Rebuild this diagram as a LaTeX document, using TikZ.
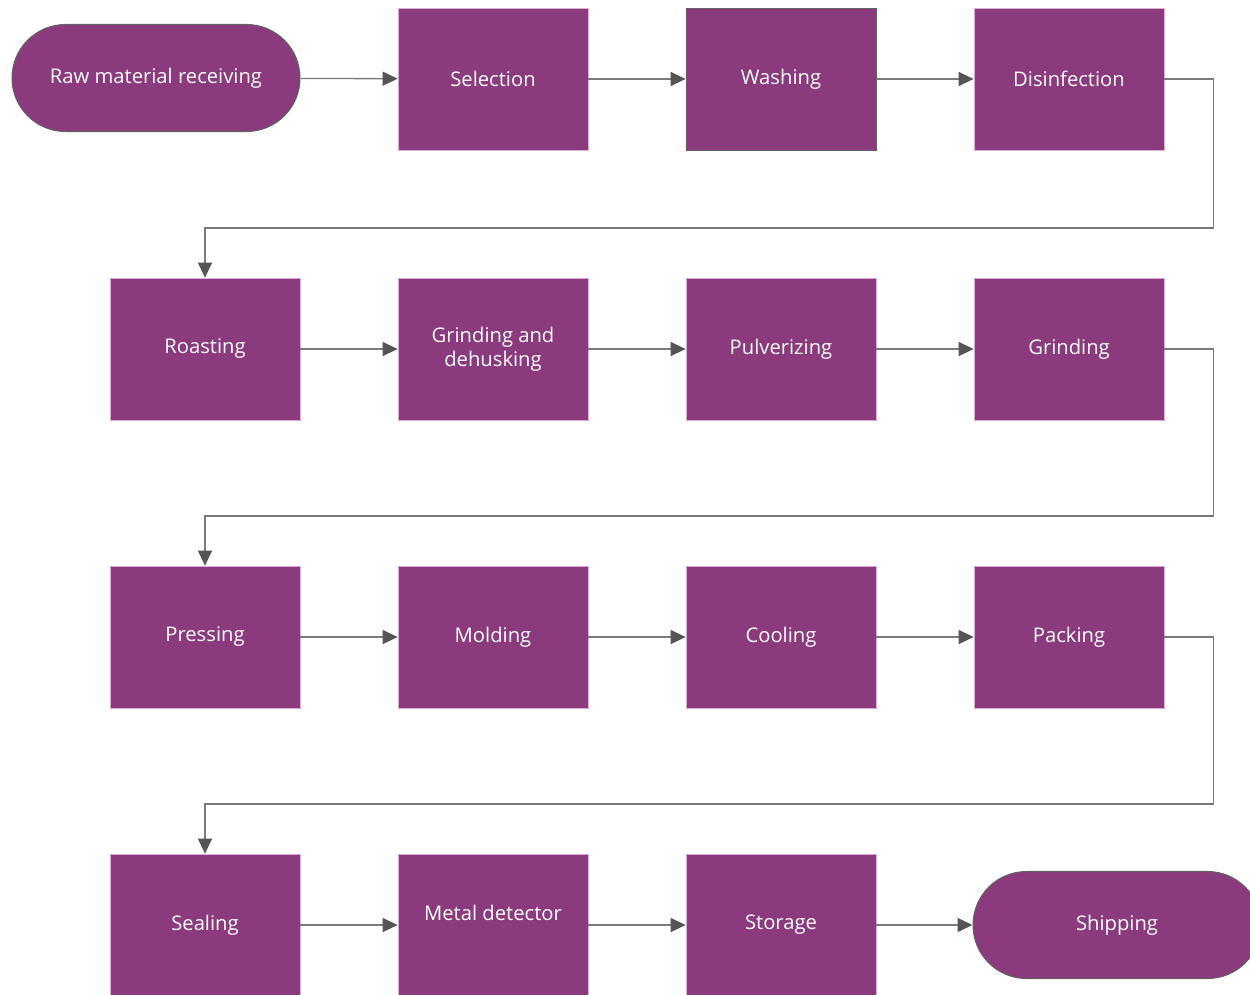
\documentclass[tikz,border=0pt]{standalone}
\usepackage{fontspec}
\setmainfont{Open Sans}
\usetikzlibrary{arrows.meta}

\definecolor{stepfill}{HTML}{8B3A7D}
\definecolor{stepline}{HTML}{D9B0D3}
\definecolor{wire}{HTML}{7A7A7A}
\definecolor{tip}{HTML}{555555}

\begin{document}
\begin{tikzpicture}[%
          x=0.02cm, y=-0.02cm,
          font=\fontsize{11.5}{13.5}\selectfont,
          process/.style={draw=stepline, fill=stepfill, text=white, line width=0.45pt,
                          minimum width=3.8cm, minimum height=2.84cm, inner sep=0pt, align=center},
          terminal/.style={draw=wire!80!black, fill=stepfill, text=white, line width=0.6pt,
                           minimum width=5.76cm, minimum height=2.14cm, rounded corners=1.07cm},
          flow/.style={draw=wire, line width=0.75pt, -{Triangle[length=0.3cm, width=0.28cm, color=tip]}}]

  \clip (0,0) rectangle (1250,994);
  \fill[white] (0,0) rectangle (1250,994);

  % first row
  \node[terminal] (raw) at (156,78) {Raw material receiving};
  \node[process] (sel) at (493,79) {Selection};
  \node[process, draw=wire!80!black] (wash) at (781,79) {Washing};
  \node[process] (dis) at (1069,79) {Disinfection};

  % second row
  \node[process] (roast) at (205,349) {Roasting};
  \node[process] (dehusk) at (493,349) {Grinding and\\dehusking};
  \node[process] (pulv) at (781,349) {Pulverizing};
  \node[process] (grind) at (1069,349) {Grinding};

  % third row
  \node[process] (press) at (205,637) {Pressing};
  \node[process] (mold) at (493,637) {Molding};
  \node[process] (cool) at (781,637) {Cooling};
  \node[process] (pack) at (1069,637) {Packing};

  % fourth row
  \node[process] (seal) at (205,925) {Sealing};
  \node[process] (metal) at (493,925) {Metal detector\\[0pt]~};
  \node[process] (store) at (781,925) {Storage};
  \node[terminal] (ship) at (1117,925) {Shipping};

  \draw[flow] (raw) -- (sel);
  \draw[flow] (sel) -- (wash);
  \draw[flow] (wash) -- (dis);
  \draw[flow] (dis.east) -- ++(49,0) |- (700,228) -| (roast.north);

  \draw[flow] (roast) -- (dehusk);
  \draw[flow] (dehusk) -- (pulv);
  \draw[flow] (pulv) -- (grind);
  \draw[flow] (grind.east) -- ++(49,0) |- (700,516) -| (press.north);

  \draw[flow] (press) -- (mold);
  \draw[flow] (mold) -- (cool);
  \draw[flow] (cool) -- (pack);
  \draw[flow] (pack.east) -- ++(49,0) |- (700,804) -| (seal.north);

  \draw[flow] (seal) -- (metal);
  \draw[flow] (metal) -- (store);
  \draw[flow] (store) -- (ship);

\end{tikzpicture}
\end{document}
